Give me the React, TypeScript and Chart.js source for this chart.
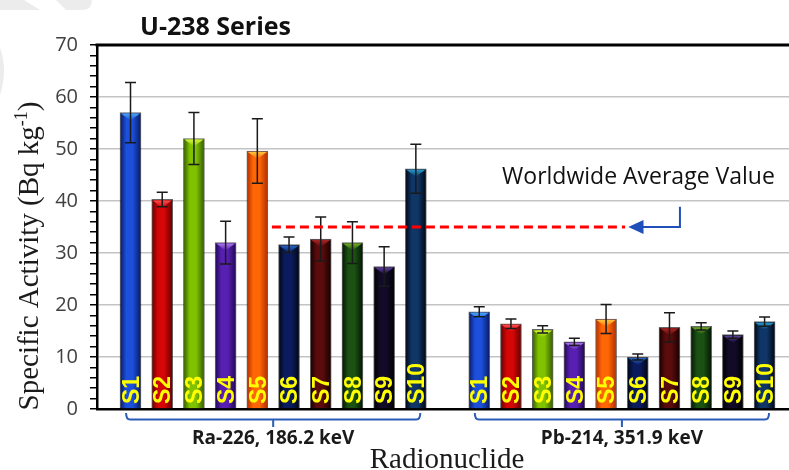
import React, { useEffect, useRef } from 'react';
import { Chart, registerables } from 'chart.js';

Chart.register(...registerables);

// ---------------- data ----------------
const sampleLabels = ['S1', 'S2', 'S3', 'S4', 'S5', 'S6', 'S7', 'S8', 'S9', 'S10'];
const groupLabels = ['Ra-226, 186.2 keV', 'Pb-214, 351.9 keV'];
const ra226Values = [57.0, 40.3, 52.0, 32.0, 49.6, 31.6, 32.7, 32.0, 27.4, 46.2];
const ra226Errors = [5.8, 1.4, 5.0, 4.1, 6.2, 1.5, 4.2, 4.0, 3.8, 4.7];
const pb214Values = [18.7, 16.4, 15.3, 12.9, 17.3, 10.0, 15.7, 15.9, 14.3, 16.8];
const pb214Errors = [0.95, 0.9, 0.7, 0.7, 2.8, 0.6, 2.8, 0.7, 0.7, 0.9];
const worldwideAverage = 35;
const worldwideLabel = 'Worldwide Average Value';
const chartTitle = 'U-238 Series';
const xTitle = 'Radionuclide';
const yTitleMain = 'Specific Activity (Bq kg';
const yTitleSup = '-1';
const yTitleEnd = ')';
const yMin = 0;
const yMax = 70;
const yMajorStep = 10;
const yMinorStep = 2;

// ---------------- layout / style ----------------
const W = 789;
const H = 470;
const BAR_W = 21;
const GROUP_OFFSETS = [1, 12]; // slot index of first bar in each group (one empty slot between)
const X_MIN = -0.057;
const X_MAX = 21.77;
const BRACKET_HALF = 4.64;
const AVG_START = 5.46;
const AVG_END = 16.6;
const ARROW_TIP = 16.7;
const ARROW_BASE = 17.15;
const ARROW_CORNER = 18.33;
const ARROW_TOP_VALUE = 38.9;
const AVG_TEXT_X = 12.72;
const AVG_TEXT_VALUE = 43.2;

const barStyles = [
  { edge: '#081a62', mid: '#1c50dc', top: '#4fb0f5' },
  { edge: '#620000', mid: '#d40606', top: '#ff5a5a' },
  { edge: '#345a00', mid: '#80c200', top: '#e0f84a' },
  { edge: '#200852', mid: '#5820b2', top: '#b080ec' },
  { edge: '#b02e00', mid: '#ff6606', top: '#ffd040' },
  { edge: '#000612', mid: '#0b1c5e', top: '#2a70d0' },
  { edge: '#160000', mid: '#5a0b0b', top: '#b02828' },
  { edge: '#041404', mid: '#1b5213', top: '#80b828' },
  { edge: '#000000', mid: '#120b28', top: '#6a48b0' },
  { edge: '#000612', mid: '#0f3666', top: '#28a8d8' },
];

const SANS = '"Open Sans", "DejaVu Sans", sans-serif';
const SERIF = '"Liberation Serif", "DejaVu Serif", serif';
const ARIAL = '"Liberation Sans", Arial, sans-serif';

const groupValues = [ra226Values, pb214Values];
const groupErrors = [ra226Errors, pb214Errors];

function barFill(ctx: any) {
  const st = barStyles[ctx.dataIndex % barStyles.length];
  const chart = ctx.chart;
  const xs = chart.scales && chart.scales.x;
  if (ctx.type !== 'data' || !xs || !chart.chartArea || !ctx.raw) return st.mid;
  const px = xs.getPixelForValue(ctx.raw.x);
  const g = chart.ctx.createLinearGradient(px - BAR_W / 2, 0, px + BAR_W / 2, 0);
  g.addColorStop(0, st.edge);
  g.addColorStop(0.3, st.mid);
  g.addColorStop(0.6, st.mid);
  g.addColorStop(1, st.edge);
  return g;
}

const overlayPlugin = {
  id: 'overlay',
  beforeDraw(chart: any) {
    const ctx = chart.ctx;
    ctx.save();
    ctx.fillStyle = '#ffffff';
    ctx.fillRect(0, 0, W, H);
    // faint watermark remnants
    ctx.fillStyle = '#ececec';
    ctx.beginPath();
    ctx.moveTo(0, 0);
    ctx.lineTo(24, 0);
    ctx.lineTo(40, 10);
    ctx.lineTo(0, 10);
    ctx.closePath();
    ctx.fill();
    ctx.beginPath();
    ctx.moveTo(56, 0);
    ctx.lineTo(92, 0);
    ctx.quadraticCurveTo(92, 10, 82, 10);
    ctx.lineTo(66, 10);
    ctx.closePath();
    ctx.fill();
    ctx.beginPath();
    ctx.moveTo(0, 48);
    ctx.quadraticCurveTo(8, 70, 0, 95);
    ctx.closePath();
    ctx.fill();
    ctx.restore();
  },
  afterDatasetsDraw(chart: any) {
    const { ctx } = chart;
    const xs = chart.scales.x;
    const ys = chart.scales.y;

    // bar bevel triangles and labels
    chart.data.datasets.forEach((ds: any, di: number) => {
      const meta = chart.getDatasetMeta(di);
      meta.data.forEach((el: any, i: number) => {
        const st = barStyles[i % barStyles.length];
        const p = el.getProps(['x', 'y', 'width', 'base'], true);
        const bx = p.x;
        const by = p.y;
        const w = p.width;
        ctx.save();
        const tg = ctx.createLinearGradient(0, by, 0, by + 8);
        tg.addColorStop(0, st.top);
        tg.addColorStop(1, st.mid);
        ctx.fillStyle = tg;
        ctx.beginPath();
        ctx.moveTo(bx - w / 2 + 1, by + 1);
        ctx.lineTo(bx + w / 2 - 1, by + 1);
        ctx.lineTo(bx, by + 8);
        ctx.closePath();
        ctx.fill();
        ctx.restore();

        ctx.save();
        ctx.translate(bx, ys.getPixelForValue(yMin) - 5);
        ctx.rotate(-Math.PI / 2);
        ctx.font = `bold 23px ${ARIAL}`;
        ctx.fillStyle = '#ffff00';
        ctx.textAlign = 'left';
        ctx.textBaseline = 'alphabetic';
        ctx.fillText(sampleLabels[i], 0, 8.2);
        ctx.restore();
      });
    });

    // error bars
    ctx.save();
    ctx.strokeStyle = '#1a1a1a';
    ctx.lineWidth = 1.5;
    groupValues.forEach((vals, gi) => {
      vals.forEach((v, i) => {
        const px = xs.getPixelForValue(GROUP_OFFSETS[gi] + i);
        const e = groupErrors[gi][i];
        const yt = ys.getPixelForValue(v + e);
        const yb = ys.getPixelForValue(v - e);
        ctx.beginPath();
        ctx.moveTo(px, yt);
        ctx.lineTo(px, yb);
        ctx.moveTo(px - 5.5, yt);
        ctx.lineTo(px + 5.5, yt);
        ctx.moveTo(px - 5.5, yb);
        ctx.lineTo(px + 5.5, yb);
        ctx.stroke();
      });
    });
    ctx.restore();

    // worldwide average dashed line
    const ay = ys.getPixelForValue(worldwideAverage);
    ctx.save();
    ctx.strokeStyle = '#ff0000';
    ctx.lineWidth = 3;
    ctx.setLineDash([9, 5]);
    ctx.beginPath();
    ctx.moveTo(xs.getPixelForValue(AVG_START), ay);
    ctx.lineTo(xs.getPixelForValue(AVG_END), ay);
    ctx.stroke();
    ctx.restore();

    // arrow
    ctx.save();
    ctx.strokeStyle = '#1f4fb8';
    ctx.fillStyle = '#1f4fb8';
    ctx.lineWidth = 2;
    const cx = xs.getPixelForValue(ARROW_CORNER);
    const bx2 = xs.getPixelForValue(ARROW_BASE);
    const tx = xs.getPixelForValue(ARROW_TIP);
    ctx.beginPath();
    ctx.moveTo(cx, ys.getPixelForValue(ARROW_TOP_VALUE));
    ctx.lineTo(cx, ay);
    ctx.lineTo(bx2, ay);
    ctx.stroke();
    ctx.beginPath();
    ctx.moveTo(tx, ay);
    ctx.lineTo(bx2 + 1, ay - 7);
    ctx.lineTo(bx2 + 1, ay + 7);
    ctx.closePath();
    ctx.fill();
    ctx.restore();

    // worldwide label
    ctx.save();
    ctx.font = `23px ${SANS}`;
    ctx.fillStyle = '#111111';
    ctx.textAlign = 'left';
    ctx.textBaseline = 'alphabetic';
    ctx.fillText(worldwideLabel, xs.getPixelForValue(AVG_TEXT_X), ys.getPixelForValue(AVG_TEXT_VALUE));
    ctx.restore();
  },
  afterDraw(chart: any) {
    const { ctx, chartArea: a } = chart;
    const xs = chart.scales.x;
    // top border
    ctx.save();
    ctx.strokeStyle = '#000000';
    ctx.lineWidth = 3;
    ctx.beginPath();
    ctx.moveTo(a.left - 1.5, a.top);
    ctx.lineTo(a.right, a.top);
    ctx.stroke();
    ctx.restore();

    // group brackets and labels
    groupLabels.forEach((label, gi) => {
      const c = GROUP_OFFSETS[gi] + (sampleLabels.length - 1) / 2;
      const center = xs.getPixelForValue(c);
      const l = xs.getPixelForValue(c - BRACKET_HALF);
      const r = xs.getPixelForValue(c + BRACKET_HALF);
      const top = a.bottom + 4;
      const mid = a.bottom + 10.5;
      const bot = a.bottom + 18;
      ctx.save();
      ctx.strokeStyle = '#2a5cb8';
      ctx.lineWidth = 2;
      ctx.beginPath();
      ctx.moveTo(l, top);
      ctx.quadraticCurveTo(l, mid, l + 4, mid);
      ctx.lineTo(r - 4, mid);
      ctx.quadraticCurveTo(r, mid, r, top);
      ctx.moveTo(center, mid);
      ctx.lineTo(center, bot);
      ctx.stroke();
      ctx.font = `bold 19px ${SANS}`;
      ctx.fillStyle = '#1a1a1a';
      ctx.textAlign = 'center';
      ctx.textBaseline = 'alphabetic';
      ctx.fillText(label, center, a.bottom + 35);
      ctx.restore();
    });

    // x title
    ctx.save();
    ctx.font = `29px ${SERIF}`;
    ctx.fillStyle = '#1a1a1a';
    ctx.textAlign = 'center';
    ctx.textBaseline = 'alphabetic';
    ctx.fillText(xTitle, 447, 468);
    ctx.restore();

    // y title with superscript
    ctx.save();
    ctx.translate(38, 256);
    ctx.rotate(-Math.PI / 2);
    ctx.fillStyle = '#1a1a1a';
    ctx.textAlign = 'left';
    ctx.textBaseline = 'alphabetic';
    const mainFont = `29px ${SERIF}`;
    const supFont = `18px ${SERIF}`;
    ctx.font = mainFont;
    const w1 = ctx.measureText(yTitleMain).width;
    const w3 = ctx.measureText(yTitleEnd).width;
    ctx.font = supFont;
    const w2 = ctx.measureText(yTitleSup).width;
    let sx = -(w1 + w2 + w3) / 2;
    ctx.font = mainFont;
    ctx.fillText(yTitleMain, sx, 0);
    sx += w1;
    ctx.font = supFont;
    ctx.fillText(yTitleSup, sx, -11);
    sx += w2;
    ctx.font = mainFont;
    ctx.fillText(yTitleEnd, sx, 0);
    ctx.restore();

    // chart title
    ctx.save();
    ctx.font = `bold 25px ${SANS}`;
    ctx.fillStyle = '#111111';
    ctx.textAlign = 'left';
    ctx.textBaseline = 'alphabetic';
    ctx.fillText(chartTitle, 140, 35);
    ctx.restore();
  },
};

export default function App() {
  const canvasRef = useRef<HTMLCanvasElement | null>(null);

  useEffect(() => {
    let chart: Chart | null = null;
    let cancelled = false;
    const build = () => {
      if (cancelled || !canvasRef.current) return;
      const datasets = groupValues.map((vals, gi) => ({
        label: groupLabels[gi],
        data: vals.map((v, i) => ({ x: GROUP_OFFSETS[gi] + i, y: v })),
        backgroundColor: barFill,
        borderColor: 'rgba(0,0,0,0.6)',
        borderWidth: 1,
        barThickness: BAR_W,
        grouped: false,
      }));
      chart = new Chart(canvasRef.current, {
        type: 'bar',
        data: { datasets } as any,
        options: {
          responsive: false,
          animation: false,
          devicePixelRatio: 1,
          events: [],
          layout: { padding: { top: 45, left: 0, right: 0, bottom: 0 } },
          plugins: {
            legend: { display: false },
            tooltip: { enabled: false },
            title: { display: false },
          },
          scales: {
            x: {
              type: 'linear',
              min: X_MIN,
              max: X_MAX,
              offset: false,
              grid: { display: false },
              ticks: { display: false },
              border: { display: true, color: '#000000', width: 2.5 },
              afterFit: (s: any) => {
                s.height = 61;
              },
            },
            y: {
              type: 'linear',
              min: yMin,
              max: yMax,
              ticks: {
                stepSize: yMinorStep,
                autoSkip: false,
                padding: 12,
                color: '#404040',
                font: { family: SANS, size: 20 },
                callback: (v: any) => (Number(v) % yMajorStep === 0 ? String(v) : ''),
              },
              grid: {
                color: (c: any) =>
                  c.tick && c.tick.value % yMajorStep === 0 && c.tick.value !== yMin && c.tick.value !== yMax
                    ? '#c4c4c4'
                    : 'rgba(0,0,0,0)',
                lineWidth: 1.5,
                tickColor: '#000000',
                tickLength: 7,
                tickWidth: 1.5,
              },
              border: { display: true, color: '#000000', width: 2.5 },
              afterFit: (s: any) => {
                s.width = 97;
              },
            },
          },
        } as any,
        plugins: [overlayPlugin],
      });
    };
    const fonts = [
      `bold 25px ${SANS}`,
      `23px ${SANS}`,
      `20px ${SANS}`,
      `29px ${SERIF}`,
      `bold 23px ${ARIAL}`,
    ];
    Promise.all(fonts.map((f) => (document as any).fonts.load(f).catch(() => null)))
      .catch(() => null)
      .then(build);
    return () => {
      cancelled = true;
      if (chart) chart.destroy();
    };
  }, []);

  return (
    <div style={{ position: 'absolute', left: 0, top: 0, width: W, height: H }}>
      <canvas ref={canvasRef} width={W} height={H} style={{ display: 'block', width: W, height: H }} />
    </div>
  );
}
